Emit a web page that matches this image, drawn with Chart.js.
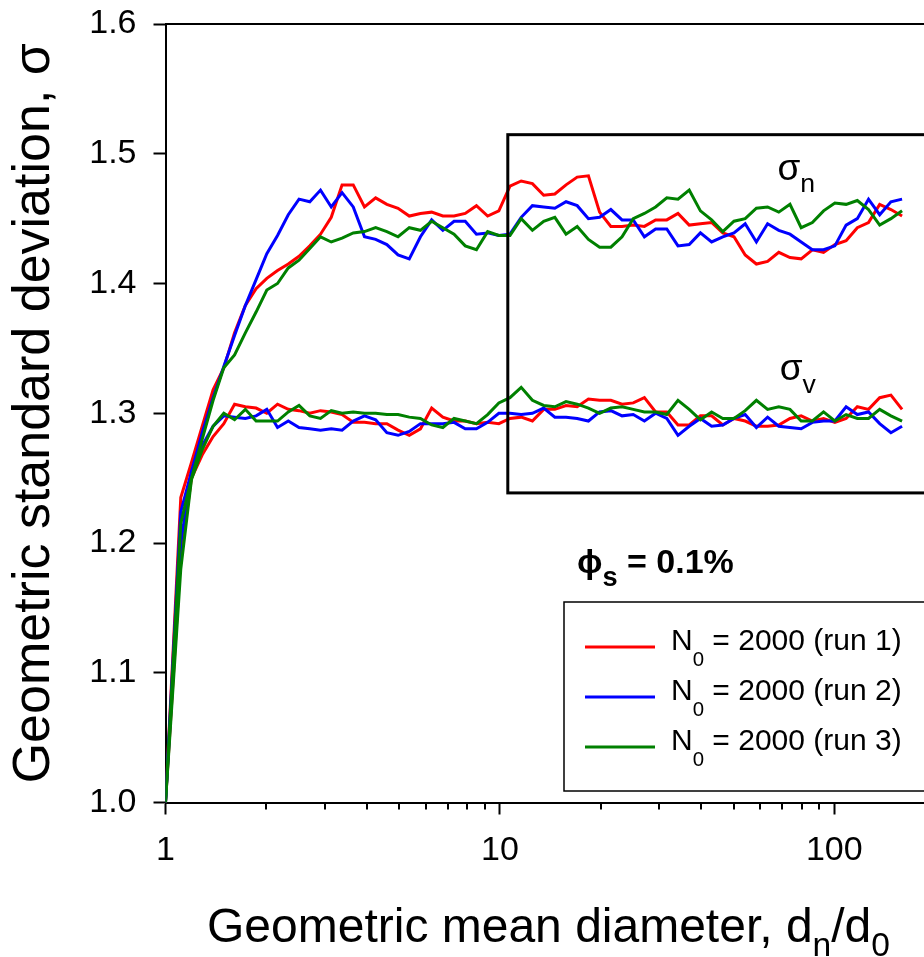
<!DOCTYPE html>
<html>
<head>
<meta charset="utf-8">
<script src="https://cdn.jsdelivr.net/npm/chart.js@4.4.1/dist/chart.umd.min.js"></script>
<style>
  html, body { margin: 0; padding: 0; background: #fff; overflow: hidden; }
  #wrap { position: relative; width: 924px; height: 957px; }
</style>
</head>
<body>
<div id="wrap"><canvas id="c" width="924" height="957"></canvas></div>
<script>
// Geometric mean diameter d_n/d_0 at each output step (shared by all runs)
const diameter = [1, 1.111, 1.196, 1.288, 1.388, 1.494, 1.609, 1.733, 1.866, 2.009,
  2.163, 2.329, 2.508, 2.701, 2.908, 3.131, 3.373, 3.643, 3.936, 4.251,
  4.592, 4.960, 5.358, 5.787, 6.251, 6.752, 7.293, 7.877, 8.509, 9.191,
  9.928, 10.72, 11.58, 12.51, 13.52, 14.60, 15.77, 17.03, 18.40, 19.87,
  21.47, 23.19, 25.05, 27.05, 29.22, 31.56, 34.09, 36.83, 39.78, 42.97,
  46.41, 50.13, 54.15, 58.49, 63.18, 68.24, 73.71, 79.62, 86.00, 92.89,
  100.4, 108.5, 117.2, 126.6, 136.7, 147.7, 159.5];

// Number-based geometric standard deviation, sigma_n
const sigmaNRun1 = [1.000, 1.235, 1.262, 1.290, 1.318, 1.335, 1.362, 1.383, 1.396, 1.404,
  1.410, 1.415, 1.421, 1.429, 1.438, 1.451, 1.476, 1.476, 1.459, 1.466,
  1.461, 1.458, 1.452, 1.454, 1.455, 1.452, 1.452, 1.454, 1.460, 1.452,
  1.456, 1.475, 1.479, 1.477, 1.468, 1.469, 1.476, 1.482, 1.483, 1.455,
  1.444, 1.444, 1.445, 1.444, 1.449, 1.449, 1.454, 1.445, 1.446, 1.447,
  1.439, 1.436, 1.422, 1.415, 1.417, 1.424, 1.420, 1.419, 1.426, 1.424,
  1.430, 1.433, 1.443, 1.447, 1.461, 1.457, 1.452];
const sigmaNRun2 = [1.000, 1.224, 1.255, 1.285, 1.312, 1.336, 1.360, 1.383, 1.403, 1.423,
  1.437, 1.453, 1.465, 1.463, 1.472, 1.459, 1.470, 1.459, 1.436, 1.434,
  1.430, 1.422, 1.419, 1.436, 1.449, 1.441, 1.448, 1.448, 1.438, 1.439,
  1.437, 1.438, 1.451, 1.460, 1.459, 1.458, 1.463, 1.460, 1.450, 1.451,
  1.457, 1.449, 1.449, 1.436, 1.442, 1.442, 1.429, 1.430, 1.439, 1.432,
  1.436, 1.439, 1.446, 1.432, 1.446, 1.441, 1.438, 1.432, 1.426, 1.426,
  1.429, 1.445, 1.450, 1.465, 1.453, 1.463, 1.465];
const sigmaNRun3 = [1.000, 1.215, 1.250, 1.280, 1.310, 1.335, 1.345, 1.362, 1.378, 1.395,
  1.400, 1.412, 1.418, 1.427, 1.436, 1.432, 1.435, 1.439, 1.440, 1.443,
  1.440, 1.436, 1.443, 1.441, 1.448, 1.443, 1.438, 1.429, 1.426, 1.440,
  1.437, 1.437, 1.450, 1.441, 1.448, 1.451, 1.438, 1.444, 1.434, 1.428,
  1.428, 1.436, 1.450, 1.454, 1.459, 1.466, 1.465, 1.472, 1.456, 1.449,
  1.440, 1.448, 1.450, 1.458, 1.459, 1.455, 1.461, 1.443, 1.447, 1.456,
  1.462, 1.461, 1.464, 1.457, 1.445, 1.450, 1.456];

// Volume-based geometric standard deviation, sigma_v
const sigmaVRun1 = [1.000, 1.190, 1.250, 1.268, 1.282, 1.292, 1.307, 1.305, 1.304, 1.300,
  1.307, 1.303, 1.302, 1.300, 1.302, 1.301, 1.299, 1.293, 1.293, 1.292,
  1.292, 1.287, 1.283, 1.288, 1.304, 1.297, 1.294, 1.294, 1.292, 1.293,
  1.292, 1.296, 1.297, 1.294, 1.303, 1.303, 1.306, 1.305, 1.311, 1.310,
  1.310, 1.307, 1.308, 1.312, 1.301, 1.301, 1.291, 1.291, 1.298, 1.298,
  1.291, 1.296, 1.294, 1.290, 1.290, 1.291, 1.296, 1.298, 1.294, 1.296,
  1.293, 1.296, 1.305, 1.303, 1.312, 1.314, 1.303];
const sigmaVRun2 = [1.000, 1.200, 1.255, 1.275, 1.290, 1.298, 1.297, 1.296, 1.298, 1.303,
  1.289, 1.294, 1.289, 1.288, 1.287, 1.288, 1.287, 1.294, 1.298, 1.295,
  1.285, 1.283, 1.286, 1.292, 1.292, 1.292, 1.293, 1.288, 1.288, 1.293,
  1.300, 1.300, 1.299, 1.300, 1.304, 1.297, 1.297, 1.296, 1.294, 1.301,
  1.302, 1.298, 1.299, 1.294, 1.300, 1.296, 1.283, 1.290, 1.296, 1.290,
  1.291, 1.296, 1.299, 1.289, 1.297, 1.290, 1.289, 1.288, 1.293, 1.294,
  1.294, 1.305, 1.299, 1.301, 1.292, 1.285, 1.290];
const sigmaVRun3 = [1.000, 1.180, 1.249, 1.272, 1.290, 1.300, 1.295, 1.303, 1.294, 1.294,
  1.294, 1.301, 1.306, 1.298, 1.296, 1.302, 1.300, 1.301, 1.300, 1.300,
  1.299, 1.299, 1.297, 1.296, 1.291, 1.289, 1.296, 1.294, 1.292, 1.299,
  1.308, 1.312, 1.320, 1.310, 1.306, 1.305, 1.309, 1.307, 1.304, 1.300,
  1.304, 1.305, 1.303, 1.301, 1.301, 1.299, 1.310, 1.303, 1.295, 1.301,
  1.296, 1.296, 1.302, 1.310, 1.303, 1.305, 1.303, 1.294, 1.294, 1.301,
  1.294, 1.299, 1.296, 1.296, 1.303, 1.298, 1.294];

// Axis ticks
const yTicks = [1.0, 1.1, 1.2, 1.3, 1.4, 1.5, 1.6];
const xTickLabels = [1, 10, 100];

const runNames = ['run 1', 'run 2', 'run 3'];
const runColors = ['#ff0000', '#0000ff', '#008000'];

// Framed region around the long-time plateau (data units)
const insetBox = { xMin: 10.56, xMax: 400, yMin: 1.2386, yMax: 1.5147 };

const FONT = "'Liberation Sans', Arial, 'DejaVu Sans', sans-serif";
Chart.defaults.font.family = FONT;

function pts(vals) { return diameter.map((d, i) => ({ x: d, y: vals[i] })); }
function isDecade(v) {
  const l = Math.log10(v);
  return Math.abs(l - Math.round(l)) < 1e-9;
}
// keep tick labels from shrinking the plot area
function noOverhang(s) {
  s.paddingTop = 0; s.paddingBottom = 0; s.paddingLeft = 0; s.paddingRight = 0;
}

const series = [
  [sigmaNRun1, sigmaVRun1],
  [sigmaNRun2, sigmaVRun2],
  [sigmaNRun3, sigmaVRun3]
];
const datasets = [];
series.forEach((pair, r) => {
  pair.forEach((vals, k) => {
    datasets.push({
      label: 'N0 = 2000 (' + runNames[r] + ')' + (k ? ' v' : ' n'),
      data: pts(vals),
      borderColor: runColors[r],
      backgroundColor: runColors[r],
      borderWidth: 3,
      pointRadius: 0,
      tension: 0,
      fill: false,
      order: 2 - r
    });
  });
});

// draw text made of normal and lowered (subscript) pieces
function drawRich(ctx, parts, x, y, size, weight) {
  let cx = x;
  parts.forEach(p => {
    const fs = p.sub ? size * (p.scale || 0.66) : size;
    ctx.font = (weight || 'normal') + ' ' + fs + 'px ' + FONT;
    ctx.fillText(p.t, cx, y + (p.sub ? size * (p.shift || 0.35) : 0));
    cx += ctx.measureText(p.t).width;
  });
}

const decorations = {
  id: 'decorations',
  afterDatasetsDraw(chart) {
    const { ctx, chartArea: a, scales: { x, y } } = chart;
    ctx.save();
    ctx.strokeStyle = '#000';
    ctx.fillStyle = '#000';

    // top frame line
    ctx.lineWidth = 2;
    ctx.beginPath();
    ctx.moveTo(a.left, a.top);
    ctx.lineTo(a.right + 2, a.top);
    ctx.stroke();

    // minor ticks of the log axis
    ctx.lineWidth = 2;
    x.ticks.forEach(t => {
      const v = t.value;
      if (isDecade(v)) return;
      const e = Math.pow(10, Math.floor(Math.log10(v)));
      const m = v / e;
      if (Math.abs(m - Math.round(m)) > 1e-6) return;
      const px = Math.round(x.getPixelForValue(v));
      if (px > a.right) return;
      ctx.beginPath();
      ctx.moveTo(px, a.bottom);
      ctx.lineTo(px, a.bottom + 7);
      ctx.stroke();
    });

    // framed plateau region
    ctx.lineWidth = 3;
    const bx0 = x.getPixelForValue(insetBox.xMin);
    const bx1 = x.getPixelForValue(insetBox.xMax);
    const by0 = y.getPixelForValue(insetBox.yMax);
    const by1 = y.getPixelForValue(insetBox.yMin);
    ctx.strokeRect(bx0, by0, bx1 - bx0, by1 - by0);

    // curve labels
    ctx.textBaseline = 'alphabetic';
    ctx.textAlign = 'left';
    drawRich(ctx, [{ t: 'σ' }, { t: 'n', sub: true, scale: 0.72, shift: 0.33 }],
      x.getPixelForValue(67.6), y.getPixelForValue(1.480), 37);
    drawRich(ctx, [{ t: 'σ' }, { t: 'v', sub: true, scale: 0.72, shift: 0.36 }],
      x.getPixelForValue(68.7), y.getPixelForValue(1.3258), 37);

    // solids volume fraction
    drawRich(ctx, [{ t: 'ϕ' }, { t: 's', sub: true, scale: 0.8, shift: 0.38 }, { t: ' = 0.1%' }],
      x.getPixelForValue(17.0), y.getPixelForValue(1.1767), 34, 'bold');

    // legend
    const lx = 564, ly = 602, lb = 791;
    ctx.lineWidth = 1.5;
    ctx.strokeRect(lx, ly, 400, lb - ly);
    runNames.forEach((name, i) => {
      const yy = 647 + i * 50;
      ctx.strokeStyle = runColors[i];
      ctx.lineWidth = 3;
      ctx.beginPath();
      ctx.moveTo(585, yy);
      ctx.lineTo(655, yy);
      ctx.stroke();
      ctx.fillStyle = '#000';
      drawRich(ctx, [{ t: 'N' }, { t: '0', sub: true, scale: 0.68, shift: 0.52 }, { t: ' = 2000 (' + name + ')' }],
        671, yy + 3, 30);
    });

    // x axis title with subscripts
    ctx.fillStyle = '#000';
    drawRich(ctx, [{ t: 'Geometric mean diameter, d' }, { t: 'n', sub: true, scale: 0.7, shift: 0.3 },
      { t: '/d' }, { t: '0', sub: true, scale: 0.7, shift: 0.3 }], 207, 942, 48);

    ctx.restore();
  }
};

new Chart(document.getElementById('c'), {
  type: 'line',
  data: { datasets },
  options: {
    responsive: false,
    animation: false,
    devicePixelRatio: 1,
    layout: { padding: { top: 24, left: 0, right: 0, bottom: 0 } },
    plugins: { legend: { display: false }, tooltip: { enabled: false } },
    scales: {
      x: {
        type: 'logarithmic',
        min: 1,
        max: 185.5,
        afterFit(s) { s.height = 154.5; noOverhang(s); },
        border: { display: true, color: '#000', width: 2 },
        grid: {
          drawOnChartArea: false, drawTicks: true, tickLength: 12, tickWidth: 2,
          tickColor: c => (c.tick && isDecade(c.tick.value)) ? '#000' : 'rgba(0,0,0,0)'
        },
        ticks: {
          autoSkip: false, maxRotation: 0, minRotation: 0, padding: 16, color: '#000',
          font: { size: 34 },
          callback: v => xTickLabels.includes(Math.round(v)) && isDecade(v) ? String(Math.round(v)) : ''
        }
      },
      y: {
        min: 1.0,
        max: 1.6,
        afterFit(s) { s.width = 165.5; noOverhang(s); },
        afterBuildTicks(s) { s.ticks = yTicks.map(v => ({ value: v })); },
        border: { display: true, color: '#000', width: 2 },
        grid: { drawOnChartArea: false, drawTicks: true, tickLength: 12, tickWidth: 2, tickColor: '#000' },
        ticks: { padding: 17, color: '#000', font: { size: 34 }, callback: v => Number(v).toFixed(1) },
        title: {
          display: true, text: 'Geometric standard deviation, σ', color: '#000',
          font: { size: 52 }, padding: { top: 3, bottom: 0 }
        }
      }
    }
  },
  plugins: [decorations]
});
</script>
</body>
</html>
